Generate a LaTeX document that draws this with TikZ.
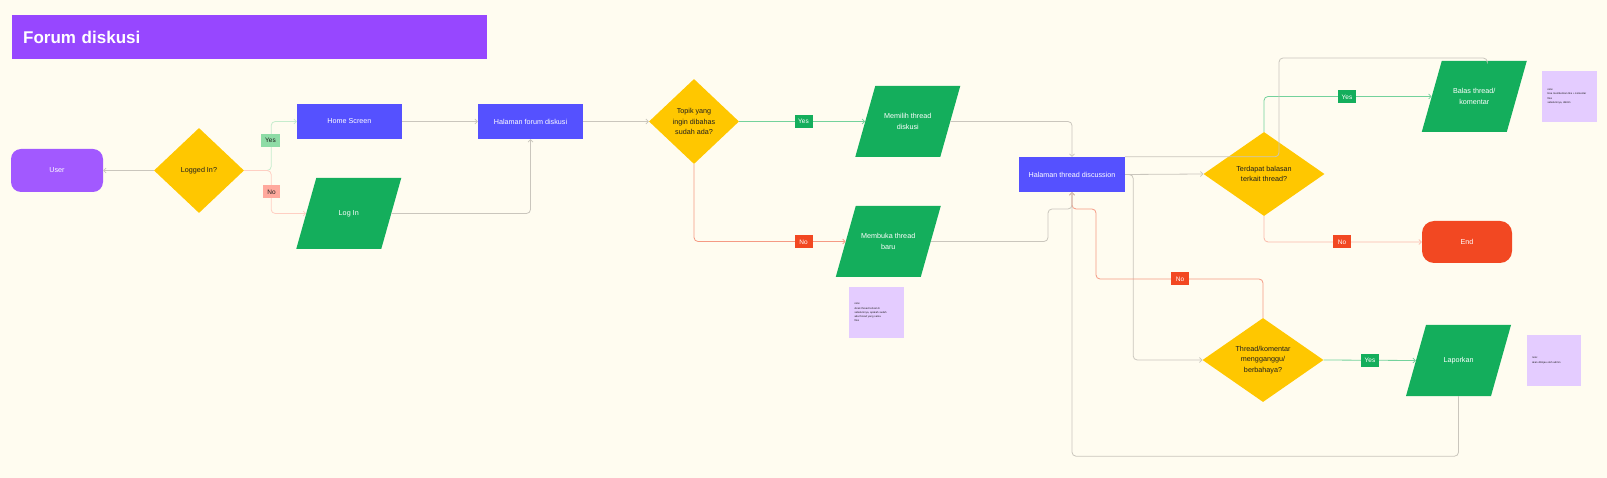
\documentclass[tikz,border=0pt]{standalone}
\usepackage{fontspec}
\setmainfont{Liberation Sans}
\usetikzlibrary{shapes.geometric,arrows.meta}

\definecolor{paper}{HTML}{FFFCF0}
\definecolor{titlepurple}{HTML}{9747FF}
\definecolor{userpurple}{HTML}{A259FF}
\definecolor{screenblue}{HTML}{5551FF}
\definecolor{askyellow}{HTML}{FFC700}
\definecolor{iogreen}{HTML}{14AE5C}
\definecolor{endred}{HTML}{F24822}
\definecolor{notelilac}{HTML}{E4CCFF}
\definecolor{inkdark}{HTML}{1E1E1E}
\definecolor{wiregray}{HTML}{CAC6BD}
\definecolor{wiregreen}{HTML}{74D29C}
\definecolor{wirered}{HTML}{F59A84}
\definecolor{palegreen}{HTML}{C6ECCD}
\definecolor{palered}{HTML}{FFCFC3}
\definecolor{yeslight}{HTML}{8EDCA6}
\definecolor{nolight}{HTML}{FFA99D}

\newcommand{\txt}{\fontsize{7.2}{10.5}\selectfont}
% green slanted box: name, x, y, text
\newcommand{\iobox}[4]{%
  \fill[iogreen] (#2-32.5,#3-35.5) -- (#2+52.5,#3-35.5) -- (#2+32.5,#3+35.5) -- (#2-52.5,#3+35.5) -- cycle;
  \node[io] (#1) at (#2,#3) {#4};}

\begin{document}
\begin{tikzpicture}[x=1pt,y=-1pt,
    screen/.style={rectangle, fill=screenblue, text=white, minimum width=105, minimum height=35, inner sep=0, font=\txt},
    ask/.style={diamond, fill=askyellow, text=inkdark, inner sep=0, align=center, font=\txt},
    io/.style={rectangle, text=white, minimum width=85, minimum height=71, inner sep=0, align=center, font=\txt},
    memo/.style={rectangle, fill=notelilac, minimum width=55, minimum height=51, inner sep=0,
        text width=44, align=left, text=inkdark, font=\fontsize{2.6}{4.2}\selectfont},
    tag/.style={rectangle, inner sep=0, minimum width=18, minimum height=13, font=\fontsize{6.5}{7}\selectfont},
    yestag/.style={tag, fill=iogreen, text=white},
    notag/.style={tag, fill=endred, text=white},
    wire/.style={line width=0.8pt, rounded corners=4pt, -{Straight Barb[length=2.5pt,width=5pt,line width=0.7pt]}},
]
\useasboundingbox (0,0) rectangle (1607,478);
\fill[paper] (0,0) rectangle (1607,478);

\node[rectangle, fill=titlepurple, anchor=north west, minimum width=475, minimum height=44,
    inner xsep=11, text width=453, align=left, text=white,
    font=\fontsize{17}{20}\selectfont\bfseries] (title) at (12,15) {Forum diskusi};

% login part
\node[rectangle, rounded corners=10pt, fill=userpurple, text=white, minimum width=92, minimum height=43, font=\txt] (user) at (57,170.5) {User};
\node[ask, minimum width=90, minimum height=85] (logged) at (199,170.5) {Logged In?};
\node[screen] (home) at (349.5,121.5) {Home Screen};
\iobox{login}{348.75}{213.5}{Log In}
\node[screen] (forum) at (530.5,121.5) {Halaman forum diskusi};

% topic part
\node[ask, minimum width=90, minimum height=85] (topik) at (694,121.5) {Topik yang\\ingin dibahas\\sudah ada?};
\iobox{memilih}{907.75}{121.5}{Memilih thread\\diskusi}
\iobox{membuka}{888.25}{241.5}{Membuka thread\\baru}
\node[memo] (memoA) at (876.5,312.5) {note:\\dicek thread terkait di\\sebelumnya, apakah sudah\\ada thread yang sama\\files};

% thread part
\node[screen, minimum width=106] (thread) at (1072,174.5) {Halaman thread discussion};
\node[ask, minimum width=121, minimum height=84] (terdapat) at (1264,174) {Terdapat balasan\\terkait thread?};
\iobox{balas}{1474.25}{96.5}{Balas thread/\\komentar}
\node[memo] (memoB) at (1569.5,96.5) {note:\\bisa memberikan like + komentar\\files\\sebelumnya, dikirim};
\node[rectangle, rounded corners=12pt, fill=endred, text=white, minimum width=90, minimum height=42, font=\txt] (end) at (1467,242) {End};
\node[ask, minimum width=121, minimum height=84] (bahaya) at (1263,360) {Thread/komentar\\mengganggu/\\berbahaya?};
\iobox{lapor}{1458.5}{360.5}{Laporkan}
\node[memo, minimum width=54] (memoC) at (1554,360.5) {note:\\akan ditinjau oleh admin};

% connectors
\draw[wire, wiregray] (logged.west) -- (user.east);
\draw[wire, palegreen] (logged.east) -- ++(27,0) |- (home.west);
\draw[wire, palered] (logged.east) -- ++(27,0) |- (login.west);
\draw[wire, wiregray] (home.east) -- (forum.west);
\draw[wire, wiregray] (login.east) -| (forum.south);
\draw[wire, wiregray] (forum.east) -- (topik.west);
\draw[wire, wiregreen] (topik.east) -- (memilih.west);
\draw[wire, wirered] (topik.south) |- (membuka.west);
\draw[wire, wiregray] (memilih.east) -| (thread.north);
\draw[wire, wiregray] (membuka.east) -| (1048,209) -| (thread.south);
\draw[wire, wiregray] (thread.east) -- (terdapat.west);
\draw[wire, wiregray] (thread.east) -- ++(8,0) |- (bahaya.west);
\draw[wire, wiregreen] (terdapat.north) |- (balas.west);
\draw[wire, palered!60!wirered] (terdapat.south) |- (end.west);
\draw[wire, wirered] (bahaya.north) |- (1096,279) -- (1096,209) -| (thread.south);
\draw[wire, wiregreen] (bahaya.east) -- (lapor.west);
\draw[wire, wiregray] (lapor.south) -- ++(0,60) -| (thread.south);
\draw[line width=0.8pt, rounded corners=4pt, wiregray] ([xshift=13pt]balas.north) |- (1279,58) |- (thread.north east);

% yes / no tags
\node[tag, fill=yeslight, text=inkdark, minimum width=19] (yesA) at (270.5,140.5) {Yes};
\node[tag, fill=nolight, text=inkdark, minimum width=17] (noA) at (271.5,192) {No};
\node[yestag] (yesB) at (803.5,121.5) {Yes};
\node[notag] (noB) at (803.5,242) {No};
\node[yestag] (yesC) at (1347,97) {Yes};
\node[notag] (noC) at (1342,242) {No};
\node[notag] (noD) at (1180,279) {No};
\node[yestag] (yesD) at (1370,360.5) {Yes};
\end{tikzpicture}
\end{document}
